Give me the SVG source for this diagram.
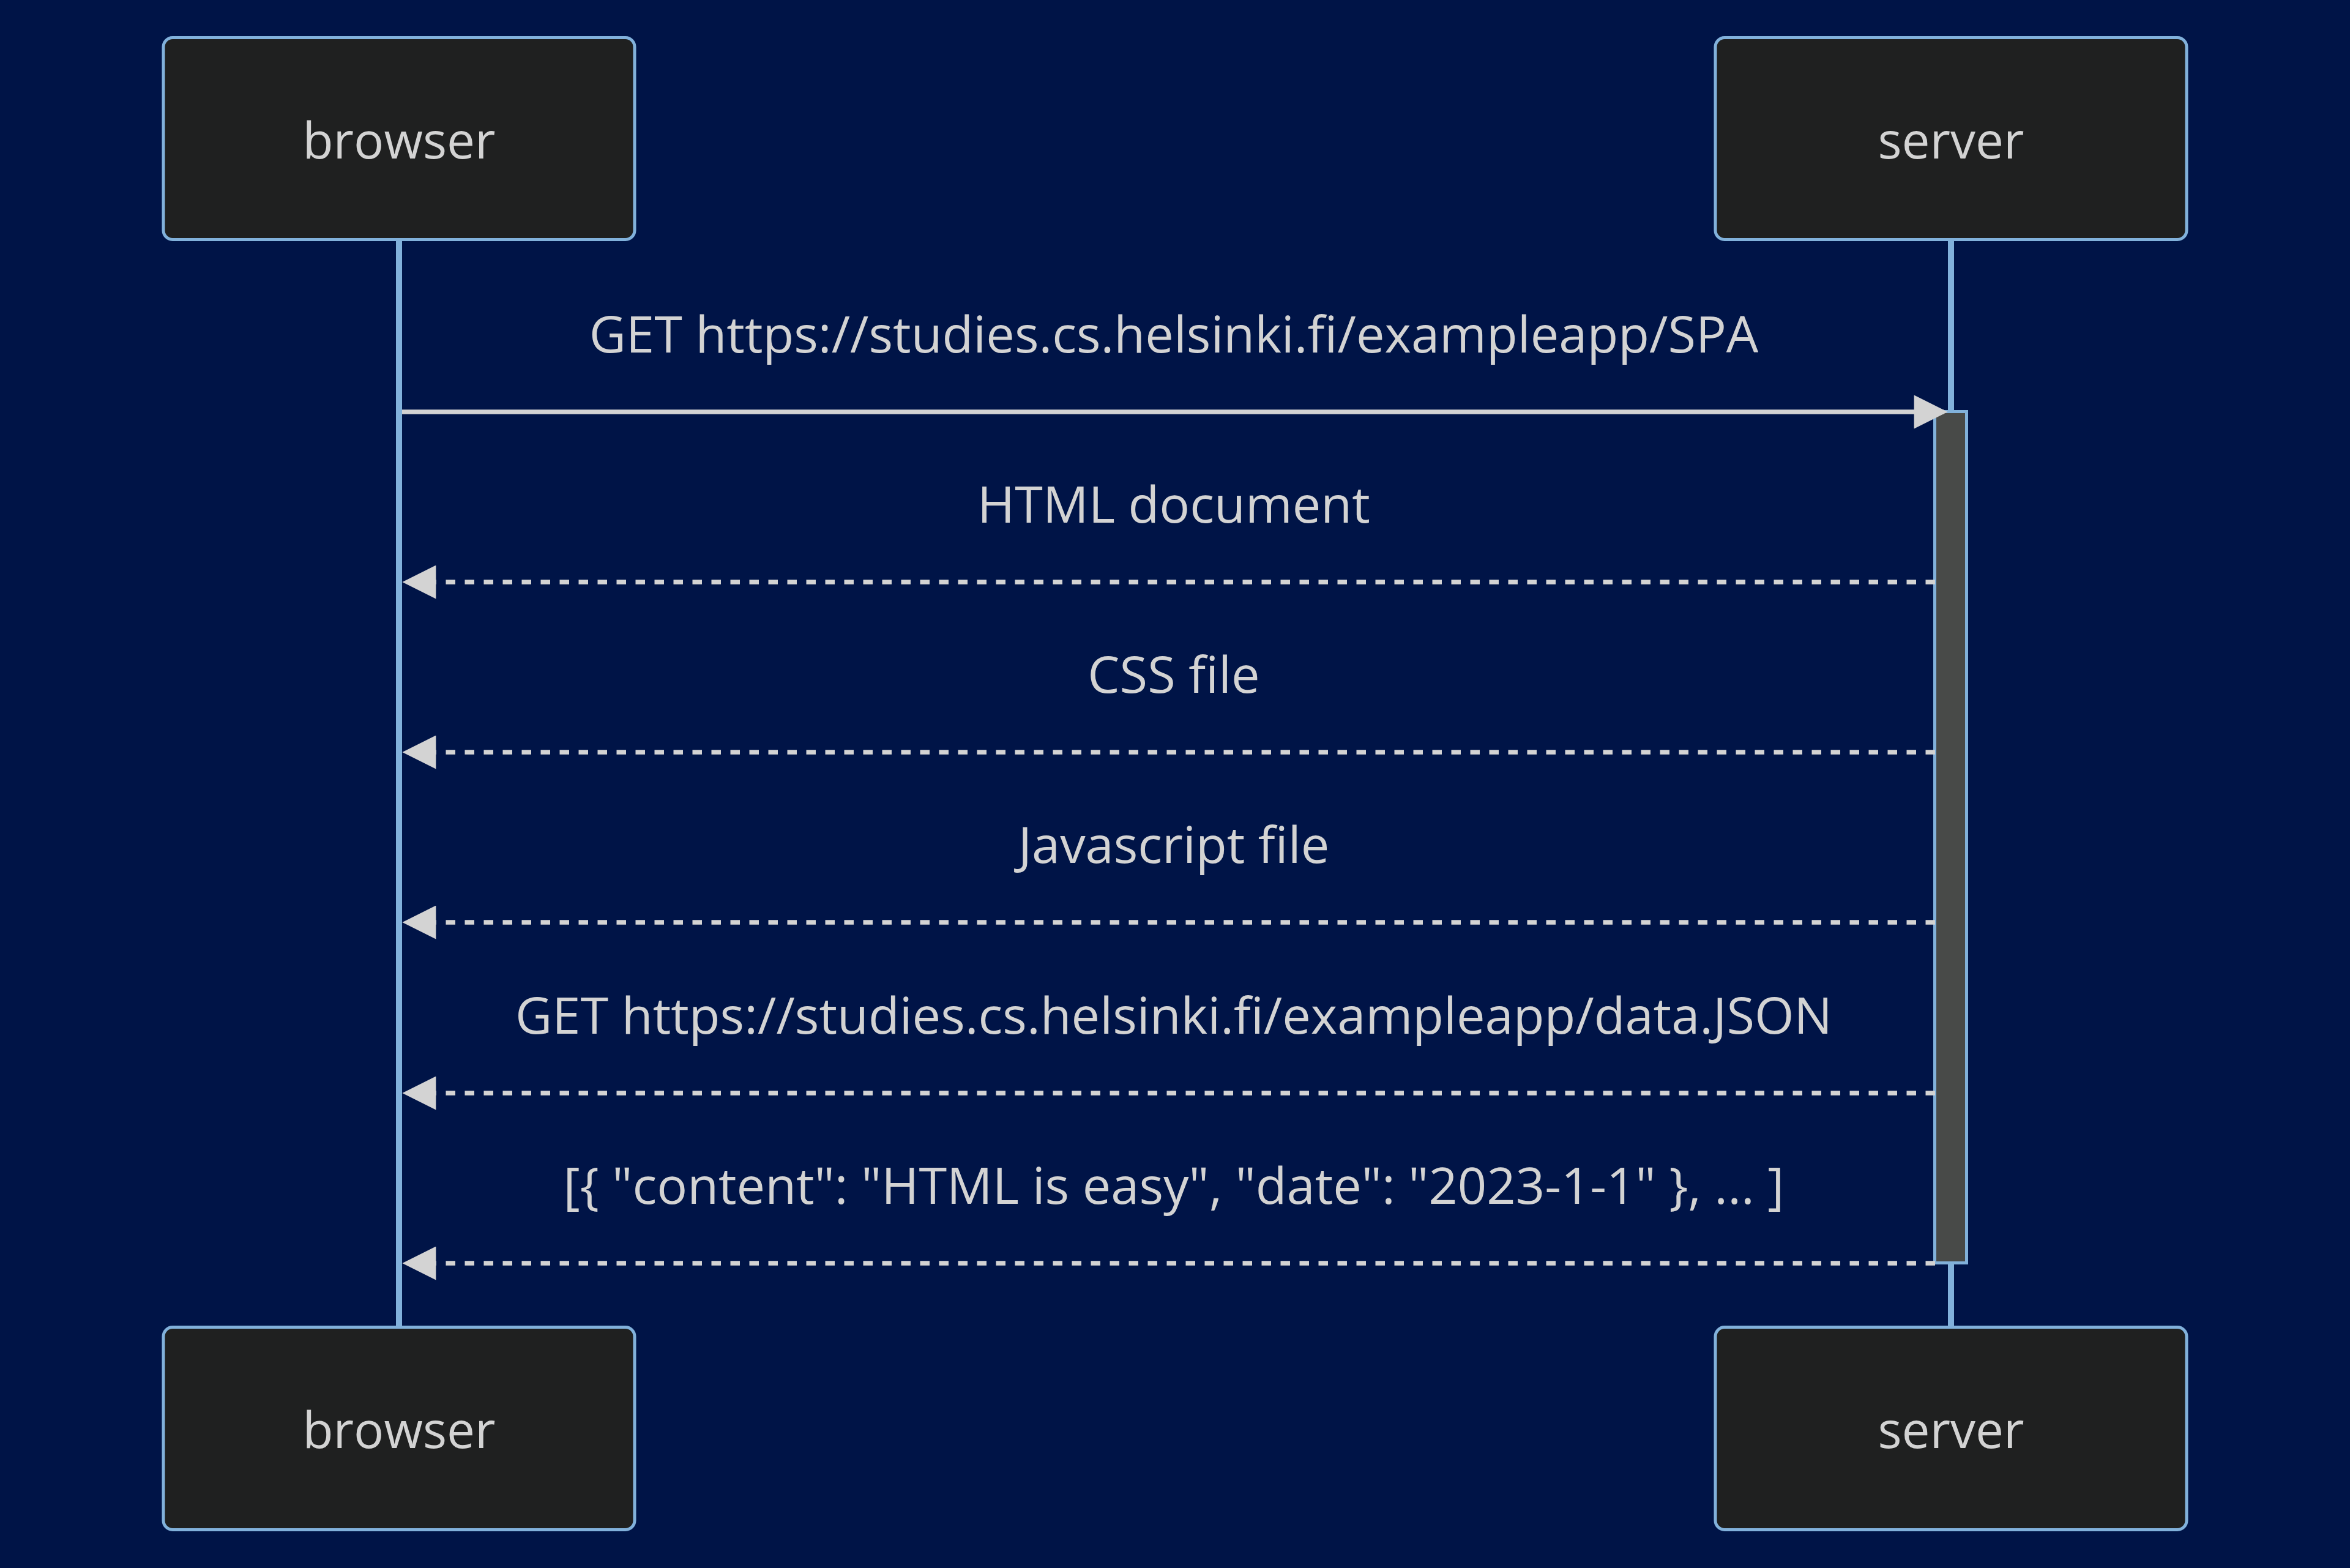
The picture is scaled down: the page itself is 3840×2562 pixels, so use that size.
<svg xmlns="http://www.w3.org/2000/svg" width="3840" height="2562" viewBox="0 0 3840 2562">
<style>
.actor{fill:#1f2020;stroke:#81B1DB;stroke-width:5}
.atext{font-family:"Open Sans","Noto Sans",sans-serif;font-size:82px;fill:#d3d3d3;text-anchor:middle}
.mtext{font-family:"Open Sans","Noto Sans",sans-serif;font-size:83px;fill:#d3d3d3;text-anchor:middle}
.life{stroke:#81B1DB;stroke-width:10}
.msg{stroke:#d3d3d3;stroke-width:7.5;fill:none;marker-end:url(#arrow)}
.dash{stroke-dasharray:15.5 15.5}
.act{fill:#484a48;stroke:#81B1DB;stroke-width:5}
</style>
<defs>
<marker id="arrow" viewBox="0 0 10 10" markerUnits="userSpaceOnUse" markerWidth="57" markerHeight="55" refX="8.8" refY="5" orient="auto">
<path d="M0 0 L10 5 L0 10 z" fill="#d3d3d3"/>
</marker>
</defs>
<rect width="3840" height="2562" fill="#001447"/>
<g id="lifelines">
<line class="life" x1="652" y1="394" x2="652" y2="2166"/>
<line class="life" x1="3188" y1="394" x2="3188" y2="2166"/>
</g>
<g id="browser-top"><rect class="actor" x="267" y="61.5" width="770" height="330" rx="15"/><text class="atext" x="652" y="259">browser</text></g>
<g id="server-top"><rect class="actor" x="2803" y="61.5" width="770" height="330" rx="15"/><text class="atext" x="3188" y="259">server</text></g>
<g id="browser-bottom"><rect class="actor" x="267" y="2168.5" width="770" height="331" rx="15"/><text class="atext" x="652" y="2366">browser</text></g>
<g id="server-bottom"><rect class="actor" x="2803" y="2168.5" width="770" height="331" rx="15"/><text class="atext" x="3188" y="2366">server</text></g>
<g id="activation"><rect class="act" x="3161.5" y="672.5" width="52" height="1391"/></g>
<g id="connectors">
<line class="msg" x1="657" y1="673" x2="3176" y2="673"/>
<line class="msg dash" x1="3162" y1="951" x2="664" y2="951"/>
<line class="msg dash" x1="3162" y1="1229" x2="664" y2="1229"/>
<line class="msg dash" x1="3162" y1="1507" x2="664" y2="1507"/>
<line class="msg dash" x1="3162" y1="1786" x2="664" y2="1786"/>
<line class="msg dash" x1="3162" y1="2064" x2="664" y2="2064"/>
</g>
<g id="labels">
<text class="mtext" x="1918" y="576">GET https://studies.cs.helsinki.fi/exampleapp/SPA</text>
<text class="mtext" x="1918" y="854">HTML document</text>
<text class="mtext" x="1918" y="1132">CSS file</text>
<text class="mtext" x="1918" y="1410">Javascript file</text>
<text class="mtext" x="1918" y="1689">GET https://studies.cs.helsinki.fi/exampleapp/data.JSON</text>
<text class="mtext" x="1918" y="1967">[{ "content": "HTML is easy", "date": "2023-1-1" }, ... ]</text>
</g>
</svg>
